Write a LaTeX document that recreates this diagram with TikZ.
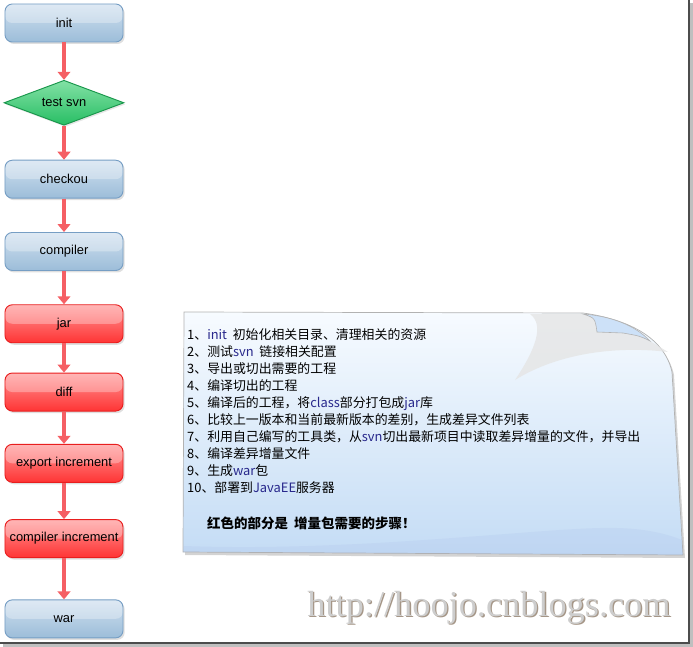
\documentclass[tikz,border=0pt]{standalone}
\usepackage{fontspec}
\setmainfont{Liberation Sans}
\newfontfamily\cjk{Noto Sans CJK SC}
\newfontfamily\wmfont{Liberation Serif}
\usetikzlibrary{shapes.geometric, positioning, arrows.meta, shadows}

\definecolor{bluetop}{RGB}{208,224,239}
\definecolor{bluebot}{RGB}{156,189,217}
\definecolor{bluedge}{RGB}{118,158,196}
\definecolor{redtop}{RGB}{255,150,150}
\definecolor{redbot}{RGB}{255,52,52}
\definecolor{rededge}{RGB}{232,30,30}
\definecolor{greentop}{RGB}{130,225,165}
\definecolor{greenbot}{RGB}{40,190,100}
\definecolor{greenedge}{RGB}{25,150,75}
\definecolor{flowred}{RGB}{245,95,100}
\definecolor{notetop}{RGB}{247,251,255}
\definecolor{notebot}{RGB}{196,220,245}
\definecolor{curlblue}{RGB}{205,225,248}
\definecolor{latinblue}{RGB}{40,40,140}
\definecolor{wmcol}{RGB}{205,205,205}
\definecolor{wmshade}{RGB}{165,150,135}

\newcommand{\latword}[1]{\textcolor{latinblue}{#1}}

\begin{document}
\begin{tikzpicture}[x=0.03cm, y=-0.03cm,
  stepbox/.style={draw, rounded corners=0.22cm, minimum width=3.54cm, minimum height=1.14cm,
    align=center, font=\fontsize{11}{13}\selectfont, inner sep=1pt, line width=0.8pt,
    drop shadow={opacity=0.25, shadow xshift=0.05cm, shadow yshift=-0.06cm},
    path picture={\fill[white, opacity=0.3] (path picture bounding box.north west) rectangle (path picture bounding box.east);}},
  bluestep/.style={stepbox, draw=bluedge, top color=bluetop, bottom color=bluebot},
  redstep/.style={stepbox, draw=rededge, top color=redtop, bottom color=redbot},
  testdec/.style={draw=greenedge, diamond, aspect=2.67, minimum width=3.6cm, minimum height=1.35cm, inner sep=0pt,
    line width=0.8pt, top color=greentop, bottom color=greenbot, font=\fontsize{11}{13}\selectfont,
    drop shadow={opacity=0.2, shadow xshift=0.04cm, shadow yshift=-0.05cm}},
  flow/.style={draw=flowred, line width=0.14cm, -{Triangle[width=0.38cm, length=0.24cm]}},
  notefill/.style={draw=black!30, line width=0.6pt, top color=notetop, bottom color=notebot,
    drop shadow={opacity=0.35, shadow xshift=0.06cm, shadow yshift=-0.09cm}},
  wm/.style={font=\wmfont\fontsize{31}{31}\selectfont, inner sep=0pt}]
  \useasboundingbox (0,0) rectangle (693,647);

  % 流程
  \node[bluestep] (init) at (64,23) {init};
  \node[testdec, below=1.12cm of init] (testsvn) {test svn};
  \node[bluestep, below=1.02cm of testsvn] (checkou) {checkou};
  \node[bluestep, below=1.0cm of checkou] (compiler) {compiler};
  \node[redstep, below=1.0cm of compiler] (jar) {jar};
  \node[redstep, below=0.88cm of jar] (diff) {diff};
  \node[redstep, below=0.97cm of diff] (export) {export increment};
  \node[redstep, below=1.09cm of export] (compinc) {compiler increment};
  \node[bluestep, below=1.24cm of compinc] (war) {war};

  \draw[flow] (init) -- (testsvn);
  \draw[flow] (testsvn) -- (checkou);
  \draw[flow] (checkou) -- (compiler);
  \draw[flow] (compiler) -- (jar);
  \draw[flow] (jar) -- (diff);
  \draw[flow] (diff) -- (export);
  \draw[flow] (export) -- (compinc);
  \draw[flow] (compinc) -- (war);

  % 说明便签
  \path[notefill] (184,312) -- (583,313) .. controls (633,320) and (665,340) .. (672,372)
    -- (683,555) -- (183,552) -- cycle;
  \fill[notebot!85!blue!90!black, opacity=0.12] (184,546) .. controls (350,552) and (520,530) .. (600,528)
    .. controls (640,527) and (665,533) .. (682,540) -- (683,555) -- (183,552) -- cycle;
  \fill[black!10, opacity=0.8] (530,314) -- (583,314) .. controls (595,318) .. (597,332) -- (623,333)
    .. controls (640,336) .. (650,341) -- (668,352) .. controls (620,346) and (560,352) .. (515,380)
    .. controls (535,350) and (545,325) .. (530,314) -- cycle;
  \filldraw[fill=curlblue, draw=black!30, line width=0.5pt] (583,314) .. controls (595,318) .. (597,332)
    -- (623,333) .. controls (640,336) .. (650,341) .. controls (635,325) and (610,316) .. (583,314) -- cycle;

  \node[anchor=north west, inner sep=0pt, align=left, font=\cjk\fontsize{11}{14.5}\selectfont] (steps) at (187,328) {%
    1、\latword{init}\ \ 初始化相关目录、清理相关的资源\\
    2、测试\latword{svn}\ \ 链接相关配置\\
    3、导出或切出需要的工程\\
    4、编译切出的工程\\
    5、编译后的工程，将\latword{class}部分打包成\latword{jar}库\\
    6、比较上一版本和当前最新版本的差别，生成差异文件列表\\
    7、利用自己编写的工具类，从\latword{svn}切出最新项目中读取差异增量的文件，并导出\\
    8、编译差异增量文件\\
    9、生成\latword{war}包\\
    10、部署到\latword{JavaEE}服务器};
  \node[anchor=west, inner sep=0pt, font=\cjk\bfseries\fontsize{11.5}{14.5}\selectfont] (redsteps) at (207,523)
    {红色的部分是\ \ 增量包需要的步骤！};

  % 水印
  \node[wm, text=wmshade] (wmshadow) at (490.3,609.3) {http://hoojo.cnblogs.com};
  \node[wm, text=wmcol] (wmtext) at (489,608) {http://hoojo.cnblogs.com};

  % 外框
  \draw[black!25, line width=2pt] (691.5,3) -- (691.5,645.5) -- (3,645.5);
  \draw[black!70, line width=1pt] (689,0) -- (689,643) -- (0,643);
\end{tikzpicture}
\end{document}
